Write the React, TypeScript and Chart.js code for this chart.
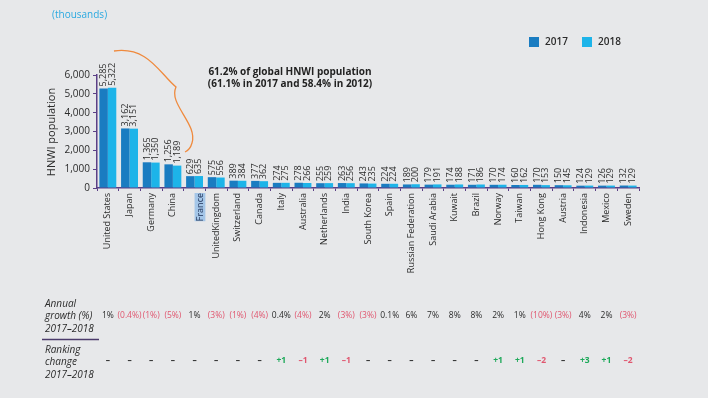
import React, { useEffect, useRef } from "react";
import { Chart, registerables } from "chart.js";

Chart.register(...registerables);

const countries = [
  "United States", "Japan", "Germany", "China", "France", "UnitedKingdom", "Switzerland",
  "Canada", "Italy", "Australia", "Netherlands", "India", "South Korea", "Spain",
  "Russian Federation", "Saudi Arabia", "Kuwait", "Brazil", "Norway", "Taiwan",
  "Hong Kong", "Austria", "Indonesia", "Mexico", "Sweden",
];
const values2017 = [5285, 3162, 1365, 1256, 629, 575, 389, 377, 274, 278, 255, 263, 243, 224, 189, 179, 174, 171, 170, 160, 170, 150, 124, 126, 132];
const values2018 = [5322, 3151, 1350, 1189, 635, 556, 384, 362, 275, 266, 259, 256, 235, 224, 200, 191, 188, 186, 174, 162, 153, 145, 129, 129, 129];
const growth = [1, -0.4, -1, -5, 1, -3, -1, -4, 0.4, -4, 2, -3, -3, 0.1, 6, 7, 8, 8, 2, 1, -10, -3, 4, 2, -3];
const rankChange = [0, 0, 0, 0, 0, 0, 0, 0, 1, -1, 1, -1, 0, 0, 0, 0, 0, 0, 1, 1, -2, 0, 3, 1, -2];
const yTicks = [0, 1000, 2000, 3000, 4000, 5000, 6000];
const seriesNames = ["2017", "2018"];

const FONT = "'Open Sans', sans-serif";
const C2017 = "#1a7cc1";
const C2018 = "#1db4e9";
const AXIS = "#5b3f86";
const RED = "#e0566f";
const GREEN = "#1ea95a";
const TEXT = "#2b2b2b";

const fmt = (v: number) => v.toLocaleString("en-US");

const overlay = {
  id: "overlay",
  afterDraw(chart: any) {
    const ctx = chart.ctx as CanvasRenderingContext2D;
    const xs = chart.scales.x;
    ctx.save();

    // value labels above bars
    ctx.fillStyle = TEXT;
    ctx.font = `9px ${FONT}`;
    chart.data.datasets.forEach((ds: any, di: number) => {
      const meta = chart.getDatasetMeta(di);
      meta.data.forEach((el: any, i: number) => {
        ctx.save();
        ctx.translate(el.x, el.y - 2);
        ctx.rotate(-Math.PI / 2);
        ctx.textAlign = "left";
        ctx.textBaseline = "middle";
        ctx.fillText(fmt(ds.data[i]), 0, 0);
        ctx.restore();
      });
    });

    // (thousands)
    ctx.fillStyle = "#2aa9e0";
    ctx.font = `10px ${FONT}`;
    ctx.textAlign = "left";
    ctx.textBaseline = "middle";
    ctx.fillText("(thousands)", 52, 15);

    // y axis title
    ctx.save();
    ctx.translate(52, 132);
    ctx.rotate(-Math.PI / 2);
    ctx.fillStyle = TEXT;
    ctx.font = `11px ${FONT}`;
    ctx.textAlign = "center";
    ctx.textBaseline = "middle";
    ctx.fillText("HNWI population", 0, 0);
    ctx.restore();

    // legend
    const legendItems = [
      { x: 529, color: C2017, label: seriesNames[0] },
      { x: 582, color: C2018, label: seriesNames[1] },
    ];
    ctx.font = `600 10px ${FONT}`;
    legendItems.forEach((it) => {
      ctx.fillStyle = it.color;
      ctx.fillRect(it.x, 37, 10, 10);
      ctx.fillStyle = TEXT;
      ctx.textAlign = "left";
      ctx.fillText(it.label, it.x + 16, 42);
    });

    // annotation
    ctx.fillStyle = "#222";
    ctx.font = `bold 10px ${FONT}`;
    ctx.textAlign = "center";
    ctx.fillText("61.2% of global HNWI population", 290, 72);
    ctx.fillText("(61.1% in 2017 and 58.4% in 2012)", 290, 84);

    // brace
    ctx.strokeStyle = "#ef8a3e";
    ctx.lineWidth = 1.3;
    ctx.beginPath();
    ctx.moveTo(114, 51);
    ctx.bezierCurveTo(148, 46, 160, 74, 176, 87);
    ctx.bezierCurveTo(168, 104, 198, 124, 192, 143);
    ctx.quadraticCurveTo(190, 150, 185, 152);
    ctx.stroke();

    // table labels
    ctx.fillStyle = TEXT;
    ctx.font = `italic 10px ${FONT}`;
    ctx.textAlign = "left";
    ctx.fillText("Annual", 45, 304);
    ctx.fillText("growth (%)", 45, 316.5);
    ctx.fillText("2017–2018", 45, 329);
    ctx.fillText("Ranking", 45, 350);
    ctx.fillText("change", 45, 362.5);
    ctx.fillText("2017–2018", 45, 375);
    ctx.strokeStyle = "#4b3b6b";
    ctx.lineWidth = 1.5;
    ctx.beginPath();
    ctx.moveTo(42, 339.5);
    ctx.lineTo(99, 339.5);
    ctx.stroke();

    // growth row
    ctx.font = `8.5px ${FONT}`;
    ctx.textAlign = "center";
    growth.forEach((g, i) => {
      const x = xs.getPixelForValue(i);
      ctx.fillStyle = g < 0 ? RED : TEXT;
      ctx.fillText(g < 0 ? `(${Math.abs(g)}%)` : `${g}%`, x, 316);
    });

    // ranking row
    ctx.font = `bold 8.5px ${FONT}`;
    rankChange.forEach((r, i) => {
      const x = xs.getPixelForValue(i);
      ctx.fillStyle = r > 0 ? GREEN : r < 0 ? RED : TEXT;
      ctx.fillText(r > 0 ? `+${r}` : r < 0 ? `–${Math.abs(r)}` : "–", x, 361);
    });

    ctx.restore();
  },
};

export default function App() {
  const ref = useRef<HTMLCanvasElement>(null);
  useEffect(() => {
    const chart = new Chart(ref.current as HTMLCanvasElement, {
      type: "bar",
      data: {
        labels: countries,
        datasets: [
          { label: seriesNames[0], data: values2017, backgroundColor: C2017, barPercentage: 1, categoryPercentage: 0.78 },
          { label: seriesNames[1], data: values2018, backgroundColor: C2018, barPercentage: 1, categoryPercentage: 0.78 },
        ],
      },
      options: {
        responsive: false,
        animation: false,
        layout: { padding: { top: 75, right: 69, left: 0, bottom: 0 } },
        plugins: { legend: { display: false }, tooltip: { enabled: false } },
        scales: {
          x: {
            grid: { display: true, drawOnChartArea: false, drawTicks: true, tickLength: 3, color: AXIS, offset: true },
            border: { color: AXIS, width: 1.5 },
            ticks: {
              minRotation: 90,
              maxRotation: 90,
              autoSkip: false,
              padding: 2,
              color: (c: any) => (c.index === 4 ? "#1d2f55" : TEXT),
              font: { size: 9, family: FONT },
              showLabelBackdrop: (c: any) => c.index === 4,
              backdropColor: "#a4c6e8",
              backdropPadding: 0,
            } as any,
            afterFit: (s: any) => { s.height = 210; },
          },
          y: {
            min: 0,
            max: 6000,
            afterBuildTicks: (s: any) => { s.ticks = yTicks.map((v) => ({ value: v })); },
            ticks: { color: TEXT, font: { size: 10, family: FONT }, padding: 3, callback: (v: any) => fmt(Number(v)) },
            grid: { display: true, drawOnChartArea: false, drawTicks: true, tickLength: 4, color: AXIS },
            border: { color: AXIS, width: 1.5 },
            afterFit: (s: any) => { s.width = 97; },
          },
        },
      },
      plugins: [overlay],
    } as any);
    return () => chart.destroy();
  }, []);
  return (
    <div style={{ position: "fixed", left: 0, top: 0, width: 708, height: 398, background: "#e7e8ea" }}>
      <canvas ref={ref} width={708} height={398} style={{ display: "block" }} />
    </div>
  );
}
